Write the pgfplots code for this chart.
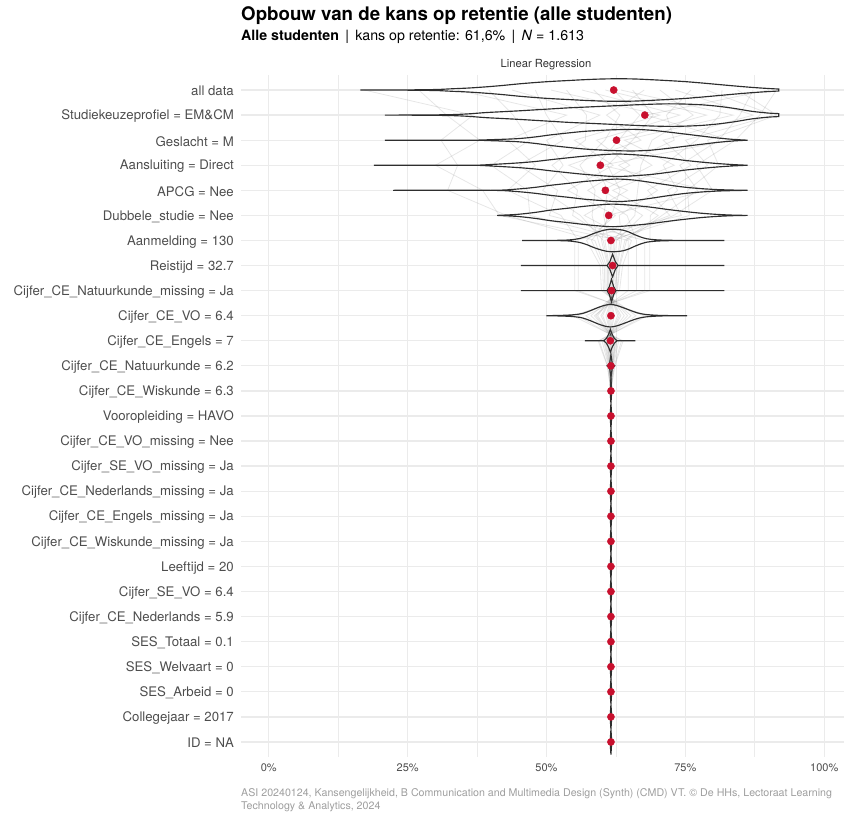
\documentclass[border=0pt]{standalone}
\usepackage{fontspec}
\setmainfont{TeX Gyre Heros}
\usepackage{pgfplots}
\pgfplotsset{compat=1.18}
\usepackage{pgfplotstable}
\usepgfplotslibrary{fillbetween}
\definecolor{vio}{HTML}{2E2E2E}
\definecolor{dotc}{HTML}{C8102E}
\definecolor{gridc}{HTML}{EBEBEB}
\definecolor{lab}{HTML}{4D4D4D}
\definecolor{capc}{HTML}{9E9E9E}

% violin profiles: x (percent), h (half height in row units)
\pgfplotstableread{
x h
16.5 0
24 0.004
30 0.02
33 0.05
36 0.08
39 0.125
42 0.18
45 0.245
48 0.30
51 0.345
54 0.38
57 0.415
60 0.44
63 0.45
66 0.44
69 0.41
72 0.375
75 0.335
78 0.28
81 0.22
84 0.16
87 0.105
90 0.06
91.8 0.04
}\vA
\pgfplotstableread{
x h
20.9 0
28 0.005
33 0.02
36 0.05
39 0.10
42 0.135
45 0.17
48 0.21
51 0.25
54 0.29
57 0.32
60 0.35
63 0.38
66 0.41
69 0.435
72 0.45
75 0.44
78 0.41
81 0.35
84 0.26
87 0.15
90 0.08
91.8 0.06
}\vB
\pgfplotstableread{
x h
20.9 0
36 0
40 0.02
44.7 0.06
48 0.13
50.7 0.21
54 0.29
56.7 0.35
60 0.395
62.7 0.42
65.7 0.43
68.7 0.40
71.7 0.33
74.7 0.25
77.7 0.17
80.7 0.09
83.7 0.03
86.2 0
}\vC
\pgfplotstableread{
x h
18.9 0
36 0
40 0.03
44.7 0.09
48 0.15
50.7 0.22
54 0.30
56.7 0.36
60 0.42
62.5 0.45
65 0.43
68.7 0.37
71.7 0.29
74.7 0.20
77.7 0.13
80.7 0.07
83.7 0.025
86.2 0
}\vD
\pgfplotstableread{
x h
22.4 0
40 0
44.7 0.05
48 0.12
50.7 0.20
54 0.28
56.7 0.35
60 0.41
62.7 0.45
65.7 0.41
68.7 0.32
71.7 0.22
74.7 0.13
77.7 0.07
80.7 0.03
83.7 0.01
86.2 0
}\vE
\pgfplotstableread{
x h
41.1 0
44.7 0.04
48 0.12
50.7 0.21
54 0.29
56.7 0.36
59.5 0.42
62 0.45
65 0.41
68.7 0.33
71.7 0.24
74.7 0.16
77.7 0.09
80.7 0.04
83.7 0.01
86.2 0
}\vF
\pgfplotstableread{
x h
45.6 0
50 0.002
53 0.01
54.5 0.03
56 0.08
57.3 0.17
58.5 0.28
59.7 0.37
60.8 0.43
61.8 0.45
62.8 0.44
63.8 0.41
64.8 0.34
65.8 0.24
66.8 0.15
68 0.07
69.5 0.03
71.5 0.01
75 0.002
82 0
}\vG
\pgfplotstableread{
x h
45.4 0
60.9 0
61.4 0.15
61.9 0.45
62.4 0.15
62.9 0
82 0
}\vH
\pgfplotstableread{
x h
45.4 0
60.9 0
61.3 0.15
61.7 0.45
62.1 0.15
62.5 0
82 0
}\vI
\pgfplotstableread{
x h
50 0
53 0.015
55 0.04
56.5 0.09
57.9 0.20
59.2 0.32
60.4 0.41
61.5 0.45
62.6 0.41
63.8 0.32
65.1 0.21
66.4 0.11
67.8 0.05
70 0.015
72.5 0.003
75.3 0
}\vJ
\pgfplotstableread{
x h
56.9 0
60.3 0
60.8 0.10
61.2 0.27
61.5 0.45
61.8 0.27
62.2 0.10
62.7 0
66 0
}\vK
\pgfplotstableread{
x h
60.9 0
61.35 0.08
61.6 0.45
61.85 0.08
62.3 0
}\vL
\pgfplotstableread{
x h
61.45 0
61.6 0.5
61.75 0
}\vM

% faint trajectories (estimated)
\pgfplotstableread{
row t1 t2 t3 t4 t5 t6 t7 t8 t9 t10 t11 t12 t13 t14 t15 t16 t17 t18 t19 t20 t21 t22 t23 t24
1 17.2 27 34 39.6 43.8 48 50.8 53.6 56.4 58.5 60.6 62 63.4 65.5 67.6 70.4 73.2 76 78.8 81.6 84.4 87.2 90 91.4
2 36.8 32 53.6 44 59.6 50 70.4 57.2 74 63.2 78.8 66.8 83.6 69.2 60.8 76.4 87.2 71.6 90.8 81.2 91.5 84.8 68 88.4
3 31 38 43 47 50 53 55 57 59 60.5 62 63 64 65.5 67 69 71 73 75 77 79 81 83 84
4 34 30 48 40 53 45 62 51 65 56 69 59 73 61 54 67 76 63 79 71 81 74 60 77
5 32.2 38.5 43 46.6 49.3 52 53.8 55.6 57.4 58.75 60.1 61 61.9 63.25 64.6 66.4 68.2 70 71.8 73.6 75.4 77.2 79 79.9
6 42.8 41.5 52.6 47 56.1 50.5 62.4 54.7 64.5 58.2 67.3 60.3 70.1 61.7 56.8 65.9 72.2 63.1 74.3 68.7 75.7 70.8 61 72.9
7 58.7 63.2 55.7 64.7 60.2 67.7 57.2 61.7 66.2 59.3 62.6 61.1 64.1 58.1 65.3 62.0 60.5 63.5 55.1 68.6 61.4 64.4 59.9 62.3
8 60.4 62.65 55.7 64.7 61.15 67.7 59.65 61.9 66.2 60.7 62.35 61.6 63.1 60.1 63.7 62.05 61.3 62.8 55.1 68.6 61.75 63.25 61.0 62.2
9 60.5 62.3 55.7 64.7 61.1 67.7 59.9 61.7 66.2 60.74 62.06 61.46 62.66 60.26 63.14 61.82 61.22 62.42 55.1 68.6 61.58 62.78 60.98 61.94
10 64.6 60.1 67.6 58.6 63.1 55.6 66.1 61.6 57.1 64.0 60.7 62.2 59.2 65.2 58.0 61.3 62.8 59.8 68.2 54.7 61.9 58.9 63.4 61.0
11 60.5 62.0 59.5 62.5 61.0 63.5 60.0 61.5 63.0 60.7 61.8 61.3 62.3 60.3 62.7 61.6 61.1 62.1 59.3 63.8 61.4 62.4 60.9 61.7
12 61.3 61.75 61.0 61.9 61.45 62.2 61.15 61.6 62.05 61.36 61.69 61.54 61.84 61.24 61.96 61.63 61.48 61.78 60.94 62.29 61.57 61.87 61.42 61.66
13 61.6 61.6 61.6 61.6 61.6 61.6 61.6 61.6 61.6 61.6 61.6 61.6 61.6 61.6 61.6 61.6 61.6 61.6 61.6 61.6 61.6 61.6 61.6 61.6
}\hz

\newcommand{\violin}[4][smooth]{%
  \addplot[draw=none, #1, name path=vu#4, forget plot] table[x=x, y expr=#3-\thisrow{h}] {#2};
  \addplot[draw=none, #1, name path=vl#4, forget plot] table[x=x, y expr=#3+\thisrow{h}] {#2};
  \addplot[fill=white, draw=vio, line width=1.15pt, forget plot] fill between[of=vu#4 and vl#4];
}

\begin{document}
\begin{tikzpicture}
\begin{axis}[
  at={(241pt,59pt)}, anchor=south west,
  width=611pt, height=682pt, scale only axis,
  xmin=-5, xmax=105, ymin=0.4, ymax=27.6, y dir=reverse,
  axis line style={draw=none}, major tick style={draw=none}, minor tick style={draw=none},
  xtick={0,25,50,75,100}, xticklabels={0\%,25\%,50\%,75\%,100\%},
  minor xtick={12.5,37.5,62.5,87.5},
  ytick={1,...,27},
  yticklabels={all data,Studiekeuzeprofiel = EM\&CM,Geslacht = M,Aansluiting = Direct,APCG = Nee,Dubbele\_studie = Nee,Aanmelding = 130,Reistijd = 32.7,Cijfer\_CE\_Natuurkunde\_missing = Ja,Cijfer\_CE\_VO = 6.4,Cijfer\_CE\_Engels = 7,Cijfer\_CE\_Natuurkunde = 6.2,Cijfer\_CE\_Wiskunde = 6.3,Vooropleiding = HAVO,Cijfer\_CE\_VO\_missing = Nee,Cijfer\_SE\_VO\_missing = Ja,Cijfer\_CE\_Nederlands\_missing = Ja,Cijfer\_CE\_Engels\_missing = Ja,Cijfer\_CE\_Wiskunde\_missing = Ja,Leeftijd = 20,Cijfer\_SE\_VO = 6.4,Cijfer\_CE\_Nederlands = 5.9,SES\_Totaal = 0.1,SES\_Welvaart = 0,SES\_Arbeid = 0,Collegejaar = 2017,ID = NA},
  xmajorgrids, xminorgrids, ymajorgrids,
  major grid style={color=gridc, line width=1.3pt},
  minor grid style={color=gridc, line width=0.65pt},
  yticklabel style={font=\fontsize{13.2}{15}\selectfont, text=lab, inner sep=0pt, xshift=-7pt, yshift=-1.2pt},
  xticklabel style={font=\fontsize{11}{13}\selectfont, text=lab, inner sep=0pt, yshift=-7pt},
]
\pgfplotsinvokeforeach{1,...,24}{%
  \addplot[black!75, opacity=0.13, line width=0.8pt, forget plot] table[x=t#1, y=row] {\hz};
}
\violin{\vA}{1}{1}
\violin{\vB}{2}{2}
\violin{\vC}{3}{3}
\violin{\vD}{4}{4}
\violin{\vE}{5}{5}
\violin{\vF}{6}{6}
\violin{\vG}{7}{7}
\violin[sharp plot]{\vH}{8}{8}
\violin[sharp plot]{\vI}{9}{9}
\violin{\vJ}{10}{10}
\violin[sharp plot]{\vK}{11}{11}
\violin[sharp plot]{\vL}{12}{12}
\violin[sharp plot]{\vM}{13}{13}
\violin[sharp plot]{\vM}{14}{14}
\violin[sharp plot]{\vM}{15}{15}
\violin[sharp plot]{\vM}{16}{16}
\violin[sharp plot]{\vM}{17}{17}
\violin[sharp plot]{\vM}{18}{18}
\violin[sharp plot]{\vM}{19}{19}
\violin[sharp plot]{\vM}{20}{20}
\violin[sharp plot]{\vM}{21}{21}
\violin[sharp plot]{\vM}{22}{22}
\violin[sharp plot]{\vM}{23}{23}
\violin[sharp plot]{\vM}{24}{24}
\violin[sharp plot]{\vM}{25}{25}
\violin[sharp plot]{\vM}{26}{26}
\violin[sharp plot]{\vM}{27}{27}
\addplot[only marks, mark=*, mark size=3.6pt, color=dotc, forget plot] coordinates {
(62.1,1) (67.7,2) (62.6,3) (59.7,4) (60.6,5) (61.2,6) (61.6,7) (61.9,8) (61.7,9)
(61.6,10) (61.5,11) (61.6,12) (61.6,13) (61.6,14) (61.6,15) (61.6,16) (61.6,17)
(61.6,18) (61.6,19) (61.6,20) (61.6,21) (61.6,22) (61.6,23) (61.6,24) (61.6,25)
(61.6,26) (61.6,27)};
\end{axis}
\node[anchor=base west, inner sep=0pt, font=\fontsize{18.7}{22}\selectfont\bfseries] at (241pt,795pt) {Opbouw van de kans op retentie (alle studenten)};
\node[anchor=base west, inner sep=0pt, font=\fontsize{14.2}{16}\selectfont] at (241pt,775pt) {\textbf{Alle studenten} \,|\, kans op retentie: 61,6\% \,|\, \textit{N} = 1.613};
\node[anchor=center, inner sep=0pt, font=\fontsize{11.2}{13}\selectfont, text=black!80] at (546pt,751pt) {Linear Regression};
\node[anchor=base west, inner sep=0pt, font=\fontsize{10.65}{12}\selectfont, text=capc] at (241pt,19pt) {ASI 20240124, Kansengelijkheid, B Communication and Multimedia Design (Synth) (CMD) VT. © De HHs, Lectoraat Learning};
\node[anchor=base west, inner sep=0pt, font=\fontsize{10.65}{12}\selectfont, text=capc] at (241pt,6pt) {Technology \& Analytics, 2024};
\pgfresetboundingbox
\path[use as bounding box] (0pt,0pt) rectangle (844pt,816pt);
\end{tikzpicture}
\end{document}
